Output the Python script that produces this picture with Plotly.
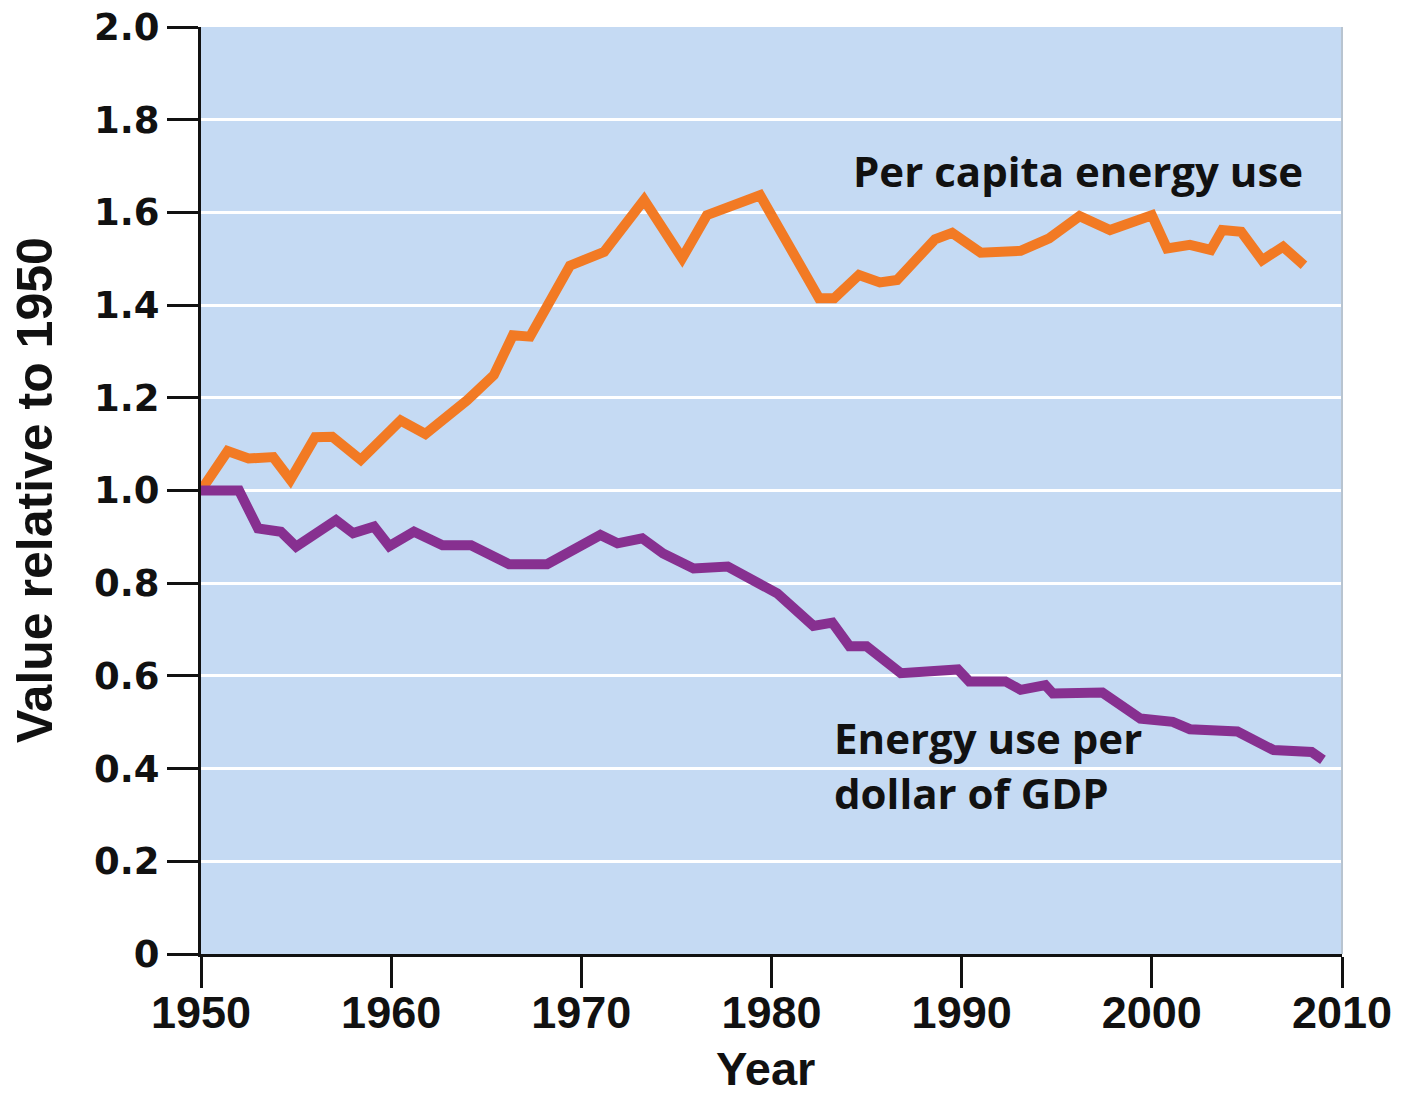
import plotly.graph_objects as go

# Per capita energy use (relative to 1950)
per_capita_years = [1950, 1951.4, 1952.5, 1953.8, 1954.7, 1956.0, 1956.9, 1958.4, 1960.5, 1961.8,
                    1964.0, 1965.4, 1966.4, 1967.3, 1969.4, 1971.2, 1973.3, 1975.3, 1976.6, 1979.4,
                    1982.5, 1983.3, 1984.6, 1985.7, 1986.6, 1988.6, 1989.5, 1991.0, 1993.1, 1994.6,
                    1996.2, 1997.8, 2000.0, 2000.8, 2002.0, 2003.1, 2003.7, 2004.7, 2005.8, 2006.9,
                    2008.0]
per_capita_vals = [1.00, 1.085, 1.069, 1.072, 1.023, 1.115, 1.116, 1.066, 1.151, 1.122,
                   1.195, 1.249, 1.335, 1.332, 1.485, 1.515, 1.627, 1.501, 1.594, 1.637,
                   1.415, 1.415, 1.465, 1.449, 1.454, 1.542, 1.556, 1.513, 1.517, 1.544,
                   1.592, 1.562, 1.594, 1.522, 1.530, 1.519, 1.562, 1.558, 1.497, 1.526,
                   1.486]

# Energy use per dollar of GDP (relative to 1950)
per_gdp_years = [1950, 1952.0, 1953.0, 1954.2, 1955.0, 1957.1, 1958.0, 1959.1, 1959.9, 1961.2,
                 1962.7, 1964.2, 1966.2, 1968.2, 1971.0, 1971.9, 1973.2, 1974.3, 1975.9, 1977.7,
                 1980.3, 1982.2, 1983.2, 1984.1, 1985.0, 1986.8, 1989.8, 1990.4, 1992.3, 1993.1,
                 1994.4, 1994.8, 1997.4, 1999.4, 2001.1, 2002.0, 2004.5, 2006.4, 2008.4, 2009.0]
per_gdp_vals = [1.00, 1.00, 0.918, 0.911, 0.879, 0.936, 0.908, 0.922, 0.880, 0.911,
                0.882, 0.882, 0.841, 0.841, 0.904, 0.886, 0.897, 0.864, 0.832, 0.836,
                0.778, 0.708, 0.715, 0.664, 0.664, 0.606, 0.614, 0.588, 0.588, 0.570,
                0.580, 0.562, 0.564, 0.508, 0.501, 0.485, 0.480, 0.440, 0.436, 0.419]

x_ticks = [1950, 1960, 1970, 1980, 1990, 2000, 2010]
y_ticks = [0, 0.2, 0.4, 0.6, 0.8, 1.0, 1.2, 1.4, 1.6, 1.8, 2.0]
y_tick_labels = ["0", "0.2", "0.4", "0.6", "0.8", "1.0", "1.2", "1.4", "1.6", "1.8", "2.0"]

ORANGE = "#F27A24"
PURPLE = "#873090"
BG = "#C5DAF3"
INK = "#111111"

fig = go.Figure()
fig.add_trace(go.Scatter(x=per_capita_years, y=per_capita_vals, mode="lines",
                         line=dict(color=ORANGE, width=10), showlegend=False, cliponaxis=False))
fig.add_trace(go.Scatter(x=per_gdp_years, y=per_gdp_vals, mode="lines",
                         line=dict(color=PURPLE, width=10), showlegend=False, cliponaxis=False))

label_font = "Open Sans, Noto Sans, sans-serif"
axis_font = "Liberation Sans, Arial, sans-serif"

fig.add_annotation(x=1984.2, y=1.691, xref="x", yref="y", text="<b>Per capita energy use</b>",
                   showarrow=False, xanchor="left", yanchor="middle",
                   font=dict(family=label_font, size=42, color=INK))
fig.add_annotation(x=1983.2, y=0.408, xref="x", yref="y",
                   text="<b>Energy use per</b><br><b>dollar of GDP</b>",
                   showarrow=False, xanchor="left", yanchor="middle", align="left",
                   font=dict(family=label_font, size=42, color=INK))

# axis titles
fig.add_annotation(x=0.495, y=-0.123, xref="paper", yref="paper", text="<b>Year</b>",
                   showarrow=False, xanchor="center", yanchor="middle",
                   font=dict(family=axis_font, size=47, color=INK))
fig.add_annotation(x=-0.1455, y=0.5005, xref="paper", yref="paper",
                   text="<b>Value relative to 1950</b>", textangle=-90,
                   showarrow=False, xanchor="center", yanchor="middle",
                   font=dict(family=axis_font, size=50, color=INK))

fig.update_layout(
    width=1412, height=1099,
    margin=dict(l=201, r=70, t=27, b=145),
    paper_bgcolor="white", plot_bgcolor=BG,
    xaxis=dict(range=[1950, 2010], tickvals=x_ticks, ticktext=[str(v) for v in x_ticks],
               automargin=False,
               showgrid=False, zeroline=False, showline=True, linecolor=INK, linewidth=3,
               ticks="outside", ticklen=31, tickwidth=3, tickcolor=INK,
               ticklabelstandoff=-14,
               tickfont=dict(family=axis_font, size=45, color=INK, weight="bold")),
    yaxis=dict(range=[0, 2], tickvals=y_ticks, ticktext=y_tick_labels,
               automargin=False,
               showgrid=True, gridcolor="white", gridwidth=3, zeroline=False,
               showline=True, linecolor=INK, linewidth=3,
               ticks="outside", ticklen=31, tickwidth=3, tickcolor=INK,
               tickfont=dict(family="DejaVu Sans, sans-serif", size=37, color=INK, weight="bold")),
)

# thin right border of plot area
fig.add_shape(type="line", xref="paper", yref="paper", x0=1, x1=1, y0=0, y1=1,
              line=dict(color="#B8C4D0", width=2))

# remove the default page margin so the figure fills the window exactly
fig.write_html("out.html", config={"displayModeBar": False},
               post_script="document.body.style.margin='0px';document.body.style.overflow='hidden';")
